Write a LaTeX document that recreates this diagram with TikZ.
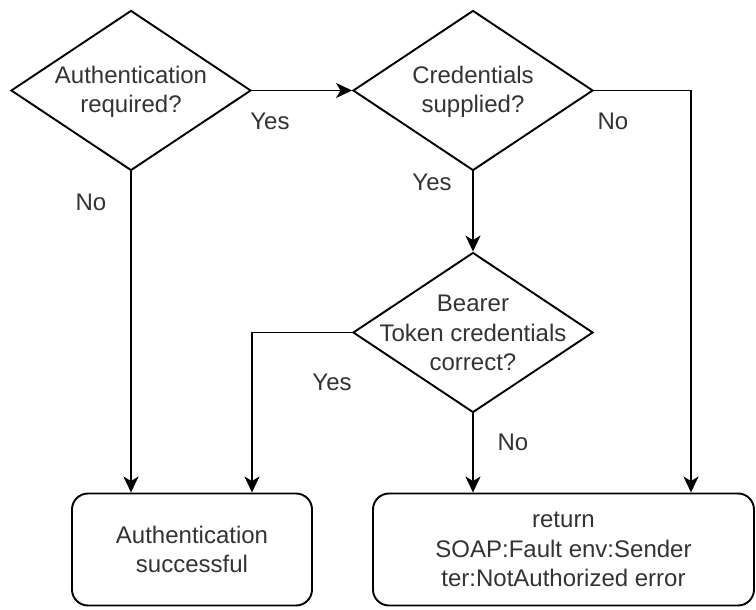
\documentclass[tikz,border=0pt]{standalone}
\usepackage{fontspec}
\setmainfont{Liberation Sans}
\usetikzlibrary{shapes.geometric,arrows.meta}
\definecolor{txtc}{HTML}{333333}
\begin{document}
\begin{tikzpicture}[x=1pt,y=-1pt,
  dia/.style={draw,line width=1.9pt,shape=diamond,minimum width=240pt,minimum height=160pt,inner sep=0pt},
  txt/.style={align=center,text=txtc,font=\fontsize{24}{29.5}\selectfont},
  box/.style={draw,line width=1.9pt,rounded corners=16pt,align=center,text=txtc,font=\fontsize{24}{29.5}\selectfont},
  lbl/.style={text=txtc,font=\fontsize{24}{29.5}\selectfont},
  arr/.style={line width=1.9pt,-{Stealth[length=16pt,width=15pt,inset=4.5pt]}},
  ln/.style={line width=1.9pt}]
\useasboundingbox (0,0) rectangle (756,610);
\node[dia] (d1) at (131,90.5) {};
\node[txt] at (131,92) {Authentication\\required?};
\node[dia] (d2) at (473,90.5) {};
\node[txt] at (473,92) {Credentials\\supplied?};
\node[dia] (d3) at (473,332.5) {};
\node[txt] at (473,333) {Bearer\\Token credentials\\correct?};
\node[box,minimum width=240pt,minimum height=112pt] (b1) at (192,549.5) {Authentication\\successful};
\node[box,minimum width=381pt,minimum height=112pt] (b2) at (563.5,549.5) {return\\SOAP:Fault env:Sender\\ter:NotAuthorized error};
\coordinate (k1) at (252,0);
\coordinate (k2) at (691,0);
\draw[arr] (d1.east) -- (d2.west);
\draw[arr] (d2.east) -| (b2.north -| k2);
\draw[arr] (d2.south) -- (d3.north);
\draw[arr] (d3.west) -| (b1.north -| k1);
\draw[arr] (d3.south) -- (b2.north -| d3.south);
\draw[arr] (d1.south) -- (b1.north -| d1.south);
\node[lbl] at (270,121) {Yes};
\node[lbl] at (613,121) {No};
\node[lbl] at (432,182) {Yes};
\node[lbl] at (332,382) {Yes};
\node[lbl] at (513,442) {No};
\node[lbl] at (91,202) {No};
\end{tikzpicture}
\end{document}
